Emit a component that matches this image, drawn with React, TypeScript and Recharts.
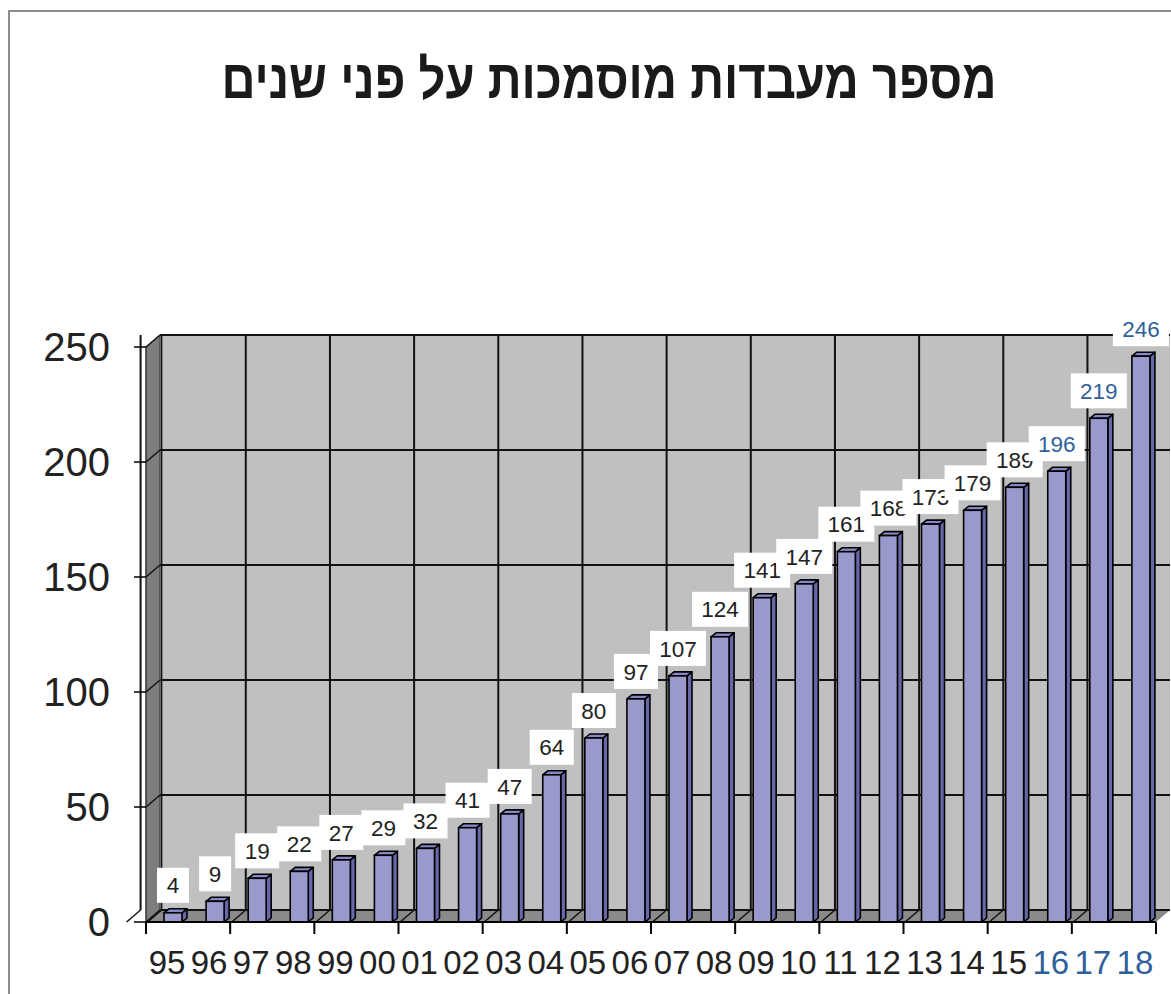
import React from 'react';
import { BarChart, Bar, XAxis, YAxis, CartesianGrid, LabelList } from 'recharts';

const years = ['95', '96', '97', '98', '99', '00', '01', '02', '03', '04', '05', '06', '07', '08', '09', '10', '11', '12', '13', '14', '15', '16', '17', '18'];
const labCounts = [4, 9, 19, 22, 27, 29, 32, 41, 47, 64, 80, 97, 107, 124, 141, 147, 161, 168, 173, 179, 189, 196, 219, 246];
const yTicks = [0, 50, 100, 150, 200, 250];
const tintedYears = ['16', '17', '18'];
const title = 'מספר מעבדות מוסמכות על פני שנים';

const data = years.map((year, i) => ({ year, labs: labCounts[i] }));

const FONT = '"Liberation Sans", Arial, sans-serif';
const DX = 14;
const DY = 12;
const BAR_SHIFT = 6;
const BDX = 5;
const BDY = 4;
const TINT = '#2f5f99';

const HLine = (props: any) => {
  const { x, y, width, height, y1, index } = props;
  const walls = index === 0 ? (
    <g>
      <rect x={x + DX} y={y - DY} width={width} height={height} fill="#c0c0c0" />
      <polygon points={`${x},${y} ${x + DX},${y - DY} ${x + DX},${y + height - DY} ${x},${y + height}`} fill="#7d7d7d" stroke="#333" strokeWidth={1} />
      <polygon points={`${x},${y + height} ${x + width},${y + height} ${x + width + DX},${y + height - DY} ${x + DX},${y + height - DY}`} fill="#8a8a8a" />
    </g>
  ) : null;
  return (
    <g key={`h-${index}`}>
      {walls}
      <line x1={x} y1={y1} x2={x + DX} y2={y1 - DY} stroke="#111" strokeWidth={1.5} />
      <line x1={x + DX} y1={y1 - DY} x2={x + width + DX} y2={y1 - DY} stroke="#111" strokeWidth={2} />
    </g>
  );
};

const VLine = (props: any) => {
  const { x, y, width, height, x1, index, verticalPoints } = props;
  const n = verticalPoints && verticalPoints.length ? verticalPoints.length : years.length;
  const half = width / n / 2;
  const bottom = y + height;
  const parts: any[] = [];
  if (index % 2 === 0) {
    const b = x1 - half;
    parts.push(<line key="d" x1={b} y1={bottom} x2={b + DX} y2={bottom - DY} stroke="#111" strokeWidth={1.5} />);
    parts.push(<line key="v" x1={b + DX} y1={y - DY} x2={b + DX} y2={bottom - DY} stroke="#111" strokeWidth={index === 0 ? 1.5 : 2} />);
  }
  if (index === n - 1) {
    const b = x1 + half;
    parts.push(<line key="d2" x1={b} y1={bottom} x2={b + DX} y2={bottom - DY} stroke="#111" strokeWidth={1.5} />);
  }
  return <g key={`v-${index}`}>{parts}</g>;
};

const Bar3D = (props: any) => {
  const { x, y, width, height } = props;
  if (height == null || height <= 0) return null;
  const fx = x + BAR_SHIFT;
  const top = y;
  const bottom = y + height;
  return (
    <g>
      <polygon
        points={`${fx + width},${top} ${fx + width + BDX},${top - BDY} ${fx + width + BDX},${bottom - BDY} ${fx + width},${bottom}`}
        fill="#6767ab" stroke="#000" strokeWidth={1.6} strokeLinejoin="round" />
      <polygon
        points={`${fx},${top} ${fx + width},${top} ${fx + width + BDX},${top - BDY} ${fx + BDX},${top - BDY}`}
        fill="#8686c8" stroke="#000" strokeWidth={1.6} strokeLinejoin="round" />
      <rect x={fx} y={top} width={width} height={height} fill="#9999cc" stroke="#000" strokeWidth={1.6} />
    </g>
  );
};

const BarLabel = (props: any) => {
  const vb = props.viewBox || {};
  const x = Number(props.x ?? vb.x);
  const y = Number(props.y ?? vb.y);
  const width = Number(props.width ?? vb.width);
  const s = String(props.value);
  const idx = props.index;
  const tinted = idx != null && tintedYears.includes(years[idx]);
  const w = 20 + s.length * 12;
  const h = 35;
  const cx = x + width / 2 + BAR_SHIFT;
  const bottom = y - 10;
  return (
    <g>
      <rect x={cx - w / 2} y={bottom - h} width={w} height={h} fill="#ffffff" />
      <text x={cx} y={bottom - h / 2} dy="0.36em" textAnchor="middle" fontSize={22.5} fontFamily={FONT} fill={tinted ? TINT : '#222'}>
        {s}
      </text>
    </g>
  );
};

const XTick = (props: any) => {
  const { x, y, payload, index, visibleTicksCount } = props;
  const n = visibleTicksCount || years.length;
  const axisW = props.width || 1010;
  const half = axisW / n / 2;
  const tinted = tintedYears.includes(payload.value);
  return (
    <g>
      {index % 2 === 0 && <line x1={x - half} y1={y} x2={x - half} y2={y + 12} stroke="#000" strokeWidth={2} />}
      {index === n - 1 && <line x1={x + half} y1={y} x2={x + half} y2={y + 12} stroke="#000" strokeWidth={2} />}
      <text x={x} y={y + 52} textAnchor="middle" fontSize={33} fontFamily={FONT} fill={tinted ? TINT : '#222'}>
        {payload.value}
      </text>
    </g>
  );
};

export default function App() {
  return (
    <div style={{ position: 'absolute', left: 0, top: 0, width: 1171, height: 994, overflow: 'hidden', background: '#fff' }}>
      <div style={{ position: 'absolute', left: 8, top: 10, width: 2000, height: 2000, borderLeft: '2px solid #8c8c8c', borderTop: '2px solid #8c8c8c' }} />
      <svg style={{ position: 'absolute', left: 0, top: 0 }} width={1171} height={130}>
        <text x={609} y={98} textAnchor="middle" fontFamily={FONT} fontWeight="bold" fontSize={55} fill="#1a1a1a" textLength={775} lengthAdjust="spacingAndGlyphs">
          {title}
        </text>
      </svg>
      <div style={{ position: 'absolute', left: 0, top: 0 }}>
        <BarChart width={1171} height={994} data={data} margin={{ top: 347, right: 15, bottom: 0, left: 0 }}>
          <CartesianGrid horizontal={HLine as any} vertical={VLine as any} stroke="#111" />
          <XAxis dataKey="year" interval={0} height={72} tickLine={false} tickSize={0} tickMargin={0}
            axisLine={{ stroke: '#000', strokeWidth: 2 }} tick={XTick} />
          <YAxis width={146} domain={[0, 250]} ticks={yTicks} interval={0} tickSize={12} tickMargin={24}
            tickLine={{ stroke: '#000', strokeWidth: 1.5 }} axisLine={{ stroke: '#333', strokeWidth: 1 }}
            tick={{ fontSize: 40, fill: '#222', fontFamily: FONT }} />
          <Bar dataKey="labs" barSize={18} shape={Bar3D} isAnimationActive={false}>
            <LabelList dataKey="labs" content={BarLabel} />
          </Bar>
        </BarChart>
      </div>
    </div>
  );
}
